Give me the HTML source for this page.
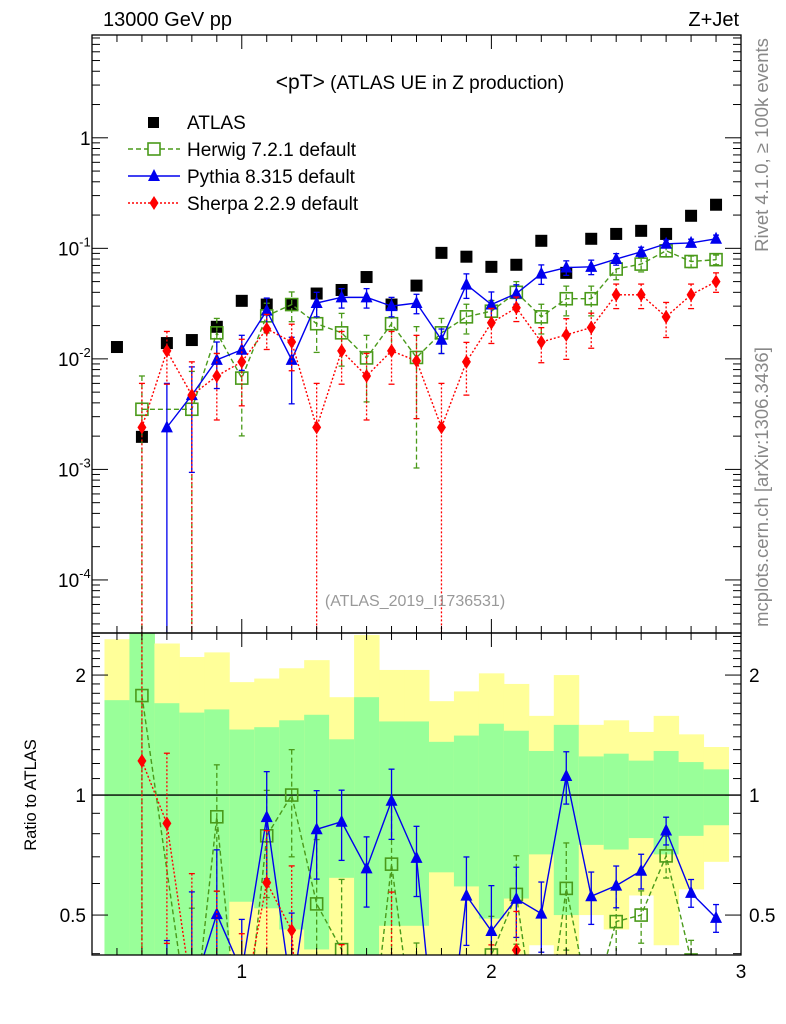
<!DOCTYPE html>
<html><head><meta charset="utf-8"><style>
html,body{margin:0;padding:0;background:#fff;width:786px;height:1024px;overflow:hidden}
#wrap{position:relative;width:786px;height:1024px;overflow:hidden}
svg{display:block;font-family:"Liberation Sans",sans-serif}
</style></head><body>
<div id="wrap">
<svg id="c" width="786" height="1024" viewBox="0 0 786 1024" style="position:absolute;left:0;top:0"></svg>
<svg width="786" height="1024" style="position:absolute;left:0;top:0">
<text x="103" y="26" font-size="20" font-family="Liberation Sans">13000 GeV pp</text>
<text x="739" y="26" font-size="20" font-family="Liberation Sans" text-anchor="end">Z+Jet</text>
<text x="420" y="89" font-size="19" font-family="Liberation Sans" text-anchor="middle"><tspan font-size="21">&lt;pT&gt;</tspan> (ATLAS UE in Z production)</text>
<g font-family="Liberation Sans" font-size="19">
<rect x="148" y="117" width="11" height="11" fill="#000"/>
<text x="187" y="129">ATLAS</text>
<line x1="128" x2="180" y1="149" y2="149" stroke="#4a9a1a" stroke-width="1.4" stroke-dasharray="5,3"/>
<rect x="148" y="143" width="12" height="12" fill="#fff" stroke="#4a9a1a" stroke-width="1.6"/>
<text x="187" y="156">Herwig 7.2.1 default</text>
<line x1="128" x2="180" y1="176" y2="176" stroke="#0000ee" stroke-width="1.4"/>
<polygon points="154,169 148,181 160,181" fill="#0000ee"/>
<text x="187" y="183">Pythia 8.315 default</text>
<line x1="128" x2="180" y1="203" y2="203" stroke="#ff0000" stroke-width="1.4" stroke-dasharray="2,2"/>
<polygon points="154,196 149.5,203 154,210 158.5,203" fill="#ff0000"/>
<text x="187" y="210">Sherpa 2.2.9 default</text>
</g>
<text x="415" y="606" font-size="16" fill="#999" font-family="Liberation Sans" text-anchor="middle">(ATLAS_2019_I1736531)</text>
<text transform="translate(768,145) rotate(-90)" font-size="18.5" fill="#888" font-family="Liberation Sans" text-anchor="middle">Rivet 4.1.0, ≥ 100k events</text>
<text transform="translate(768,487) rotate(-90)" font-size="18.5" fill="#888" font-family="Liberation Sans" text-anchor="middle">mcplots.cern.ch [arXiv:1306.3436]</text>
<text transform="translate(36,795) rotate(-90)" font-size="16.5" font-family="Liberation Sans" text-anchor="middle">Ratio to ATLAS</text>
</svg>
</div>
<script>
const binCenters=[0.5,0.6,0.7,0.8,0.9,1.0,1.1,1.2,1.3,1.4,1.5,1.6,1.7,1.8,1.9,2.0,2.1,2.2,2.3,2.4,2.5,2.6,2.7,2.8,2.9];
const atlasVals=[0.0128,0.00197,0.0139,0.0148,0.0195,0.0335,0.031,0.031,0.039,0.042,0.055,0.031,0.046,0.091,0.084,0.068,0.071,0.117,0.060,0.122,0.135,0.144,0.135,0.197,0.248];
const atlasRelErr=[0.73,2.0,0.70,0.61,0.64,0.46,0.48,0.54,0.59,0.38,0.76,0.53,0.53,0.36,0.41,0.51,0.45,0.29,0.50,0.25,0.27,0.22,0.29,0.21,0.16];
const herwigVals=[null,0.0035,null,0.0035,0.0172,0.0067,0.0245,0.031,0.0208,0.0172,0.0102,0.0208,0.0103,0.0172,0.024,0.027,0.040,0.024,0.035,0.035,0.065,0.072,0.095,0.076,0.079];
const herwigErr=[null,1.0,null,1.2,0.35,0.7,0.3,0.3,0.45,0.5,0.6,0.45,0.9,0.35,0.3,0.25,0.25,0.3,0.3,0.3,0.2,0.15,0.12,0.12,0.1];
const pythiaVals=[null,null,0.0024,0.0047,0.0098,0.0121,0.0273,0.0098,0.032,0.036,0.036,0.030,0.032,0.0149,0.047,0.031,0.039,0.059,0.067,0.068,0.080,0.093,0.110,0.112,0.122];
const pythiaErr=[null,null,1.5,0.8,0.45,0.35,0.3,0.6,0.25,0.2,0.2,0.2,0.2,0.25,0.25,0.3,0.2,0.2,0.15,0.15,0.12,0.1,0.08,0.08,0.08];
const sherpaVals=[null,0.0024,0.0118,0.0047,0.0070,0.0094,0.0187,0.0142,0.0024,0.0118,0.0070,0.0118,0.0096,0.0024,0.0094,0.0212,0.029,0.0142,0.0165,0.0192,0.038,0.038,0.024,0.038,0.050];
const sherpaErr=[null,1.5,0.5,1.0,0.6,0.6,0.35,0.45,1.5,0.5,0.6,0.5,0.7,1.5,0.5,0.35,0.25,0.35,0.4,0.35,0.25,0.25,0.35,0.25,0.2];
const xTickLabels=["1","2","3"];
const ratioTickLabels=["0.5","1","2"];

const NS="http://www.w3.org/2000/svg";
const svg=document.getElementById('c');
const L=92,R=741,T=35,MB=633,RB=955;
const X0=0.4,X1=3.0;
function sx(v){return L+(v-X0)/(X1-X0)*(R-L);}
const yTopLog=0.93,yBotLog=-4.48;
function sy(v){return T+(yTopLog-Math.log10(v))/(yTopLog-yBotLog)*(MB-T);}
const rTop=Math.log2(2.55),rBot=Math.log2(0.397);
function ry(v){return MB+(rTop-Math.log2(v))/(rTop-rBot)*(RB-MB);}
function el(tag,attrs,parent){const e=document.createElementNS(NS,tag);for(const k in attrs)e.setAttribute(k,attrs[k]);(parent||svg).appendChild(e);return e;}
function txt(s,attrs,parent){const e=el('text',attrs,parent);e.textContent=s;return e;}

const defs=el('defs',{});
const cp1=el('clipPath',{id:'cm'},defs);el('rect',{x:L,y:T,width:R-L,height:MB-T},cp1);
const cp2=el('clipPath',{id:'cr'},defs);el('rect',{x:L,y:MB,width:R-L,height:RB-MB},cp2);

const gBands=el('g',{'clip-path':'url(#cr)'});


binCenters.forEach((c,i)=>{
  const x0=sx(c-0.05),x1=sx(c+0.05),s=atlasRelErr[i];
  const y2u=ry(1+2*s),y2d=(1-2*s)>0?ry(1-2*s):RB+10;
  const y1u=ry(1+s),y1d=(1-s)>0?ry(1-s):RB+10;
  const r1=el('rect',{x:x0,y:y2u,width:x1-x0+0.5,height:y2d-y2u,fill:'#ffff99'},gBands);
  
  
  const r2=el('rect',{x:x0,y:y1u,width:x1-x0+0.5,height:y1d-y1u,fill:'#99ff99'},gBands);
  
  
});
el('line',{x1:L,x2:R,y1:ry(1),y2:ry(1),stroke:'#000','stroke-width':1.3});

function marker(type,x,y,color,g){
  if(type==='sq'){el('rect',{x:x-6,y:y-6,width:12,height:12,fill:'#000'},g);}
  else if(type==='osq'){el('rect',{x:x-6,y:y-6,width:12,height:12,fill:'none',stroke:color,'stroke-width':1.6},g);}
  else if(type==='tri'){el('polygon',{points:`${x},${y-7} ${x-6},${y+5} ${x+6},${y+5}`,fill:color},g);}
  else if(type==='dia'){el('polygon',{points:`${x},${y-7} ${x-4.5},${y} ${x},${y+7} ${x+4.5},${y}`,fill:color},g);}
}

const series=[
 {name:'herwig',vals:herwigVals,err:herwigErr,color:'#4a9a1a',dash:'5,3',m:'osq'},
 {name:'pythia',vals:pythiaVals,err:pythiaErr,color:'#0000ee',dash:'',m:'tri'},
 {name:'sherpa',vals:sherpaVals,err:sherpaErr,color:'#ff0000',dash:'2,2',m:'dia'}
];

function drawSeries(s,panel){
  const isMain=panel==='main';
  const yf=isMain?sy:ry;const bottom=isMain?MB+5:RB+5;
  const g=el('g',{'clip-path':isMain?'url(#cm)':'url(#cr)'});
  
  
  let pts=[];
  binCenters.forEach((c,i)=>{
    let v=s.vals[i];if(v==null)return;
    if(!isMain)v=v/atlasVals[i];
    const x=sx(c),e=s.err[i];
    const yu=yf(v*(1+e));const yd=(1-e)>0.001?yf(v*(1-e)):bottom;
    el('line',{x1:x,x2:x,y1:yu,y2:yd,stroke:s.color,'stroke-width':1.3,'stroke-dasharray':s.dash},g);
    el('line',{x1:x-3,x2:x+3,y1:yu,y2:yu,stroke:s.color,'stroke-width':1.3},g);
    if((1-e)>0.001)el('line',{x1:x-3,x2:x+3,y1:yd,y2:yd,stroke:s.color,'stroke-width':1.3},g);
    pts.push([x,yf(v)]);
  });
  const pl=el('polyline',{points:pts.map(p=>p.join(',')).join(' '),fill:'none',stroke:s.color,'stroke-width':1.4,'stroke-dasharray':s.dash},g);
  
  
  pts.forEach(p=>marker(s.m,p[0],p[1],s.color,g));
}

const ga=el('g',{'clip-path':'url(#cm)'});


binCenters.forEach((c,i)=>marker('sq',sx(c),sy(atlasVals[i]),'#000',ga));
series.forEach(s=>drawSeries(s,'main'));
series.forEach(s=>drawSeries(s,'ratio'));

el('rect',{x:L,y:T,width:R-L,height:MB-T,fill:'none',stroke:'#000','stroke-width':1.3});
el('rect',{x:L,y:MB,width:R-L,height:RB-MB,fill:'none',stroke:'#000','stroke-width':1.3});

for(let k=4;k<=30;k++){
  const v=k/10,x=sx(v),maj=(k%10===0),len=maj?14:7;
  [[T,1],[MB,-1],[MB,1],[RB,-1]].forEach(([y,d])=>el('line',{x1:x,x2:x,y1:y,y2:y+d*len,stroke:'#000','stroke-width':1}));
}
xTickLabels.forEach(l=>{const t=txt(l,{x:sx(+l),y:978,'font-size':19,'text-anchor':'middle'});

});

for(let d=-5;d<=0;d++){
  for(let m=1;m<=9;m++){
    const v=m*Math.pow(10,d);const y=sy(v);if(y<T||y>MB)continue;
    const len=m===1?16:8;
    el('line',{x1:L,x2:L+len,y1:y,y2:y,stroke:'#000','stroke-width':1});
    el('line',{x1:R,x2:R-len,y1:y,y2:y,stroke:'#000','stroke-width':1});
  }
}
const decs=[[0,'1'],[-1,'10'],[-2,'10'],[-3,'10'],[-4,'10']];
decs.forEach(([d,b])=>{
  const y=sy(Math.pow(10,d));
  const t=el('text',{x:d===0?80:58,y:y+7,'font-size':19},svg);
  
  
  t.textContent=b;
  if(d!==0){const s=el('tspan',{dy:-9,'font-size':13},t);s.textContent=String(d);}
});

for(let k=4;k<=25;k++){
  const v=k/10,y=ry(v);if(y<MB||y>RB)continue;
  const maj=(k===5||k===10||k===20),len=maj?16:8;
  el('line',{x1:L,x2:L+len,y1:y,y2:y,stroke:'#000','stroke-width':1});
  el('line',{x1:R,x2:R-len,y1:y,y2:y,stroke:'#000','stroke-width':1});
}
ratioTickLabels.forEach(l=>{
  const y=ry(+l)+7;
  const a=txt(l,{x:86,y:y,'font-size':19,'text-anchor':'end'});
  
  
  const b=txt(l,{x:749,y:y,'font-size':19});
  
  
});
</script>
</body></html>
